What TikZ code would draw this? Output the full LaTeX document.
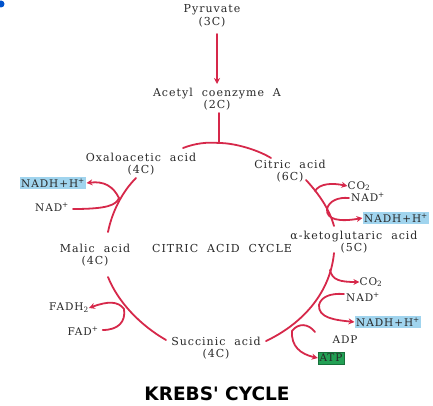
\documentclass[tikz,border=0pt]{standalone}
\usepackage{fontspec}
\setmainfont{DejaVu Serif}[WordSpace=2,LetterSpace=9]
\newfontfamily\titlefont{DejaVu Sans}
\usetikzlibrary{arrows.meta}
\definecolor{kred}{RGB}{214,40,74}
\definecolor{kblue}{RGB}{160,212,238}
\definecolor{kgreen}{RGB}{34,160,84}
\definecolor{ktext}{RGB}{40,40,40}
\begin{document}
\begin{tikzpicture}[x=1pt,y=-1pt,
  lbl/.style={font=\fontsize{11}{12.5}\selectfont, text=ktext, align=center, inner sep=0pt},
  sml/.style={font=\fontsize{10.5}{12}\selectfont, text=ktext, align=center, inner sep=0pt},
  cyc/.style={draw=kred, line width=1.8pt, line cap=round},
  outarr/.style={cyc, -{Stealth[length=6pt,width=6pt]}},
  bluebox/.style={sml, fill=kblue, inner xsep=1.5pt, inner ysep=2pt},
  greenbox/.style={sml, fill=kgreen, draw=kgreen!70!black, inner xsep=1.5pt, inner ysep=2pt}]
\useasboundingbox (0,0) rectangle (433,406);
\fill[blue!60!cyan!80!black] (1,4) circle (3.5);

% main compounds
\node[lbl] (pyr) at (212,16) {Pyruvate\\(3C)};
\node[lbl] (acoa) at (217,99) {Acetyl coenzyme A\\(2C)};
\node[lbl] (oxa) at (141,164) {Oxaloacetic acid\\(4C)};
\node[lbl] (cit) at (290,171) {Citric acid\\(6C)};
\node[lbl] (akg) at (354,242) {α-ketoglutaric acid\\(5C)};
\node[lbl] (mal) at (95,255) {Malic acid\\(4C)};
\node[lbl] (suc) at (216,348) {Succinic acid\\(4C)};
\node[lbl] (cac) at (222,248) {CITRIC ACID CYCLE};

% side products
\node[bluebox] (nadhA) at (53,183) {NADH+H\textsuperscript{+}};
\node[sml] (nadA) at (52,207) {NAD\textsuperscript{+}};
\node[sml] (co2A) at (359,186) {CO\textsubscript{2}};
\node[sml] (nadB) at (368,197) {NAD\textsuperscript{+}};
\node[bluebox] (nadhB) at (396,218) {NADH+H\textsuperscript{+}};
\node[sml] (co2B) at (371,282) {CO\textsubscript{2}};
\node[sml] (nadC) at (363,297) {NAD\textsuperscript{+}};
\node[bluebox] (nadhC) at (388,322) {NADH+H\textsuperscript{+}};
\node[sml] (adp) at (345,340) {ADP};
\node[greenbox] (atp) at (331,358) {ATP};
\node[sml] (fadh) at (69,308) {FADH\textsubscript{2}};
\node[sml] (fad) at (83,331) {FAD\textsuperscript{+}};

\node[font=\titlefont\bfseries\fontsize{18.5}{20}\selectfont, inner sep=0pt] (title) at (217,394) {KREBS' CYCLE};

% coordinates on the cycle
\coordinate (top) at (219,143);
\coordinate (tl) at (183,148);
\coordinate (tr) at (271,158);
\coordinate (c1) at (306,180);
\coordinate (c2) at (334,226);
\coordinate (k1) at (334,253);
\coordinate (k2) at (266,341);
\coordinate (s1) at (166,340);
\coordinate (s2) at (108,277);
\coordinate (m1) at (108,232);
\coordinate (m2) at (136,178);

% pyruvate -> acetyl CoA
\draw[outarr] (217,34) -- (217,84);
\draw[cyc] (219,113) -- (top);

% cycle
\draw[cyc] (tl) .. controls (196,143) and (208,142) .. (top) .. controls (235,143) and (258,150) .. (tr);
\draw[cyc] (c1) .. controls (318,193) and (329,208) .. (c2);
\draw[cyc] (k1) .. controls (330,295) and (300,325) .. (k2);
\draw[cyc] (s1) .. controls (140,325) and (118,302) .. (s2);
\draw[cyc] (m1) .. controls (112,212) and (122,192) .. (m2);

% left top branch
\coordinate (jA) at (119,198);
\draw[outarr] (jA) .. controls (113,186) and (104,181) .. (nadhA.east);
\draw[cyc] (nadA.east) ++(4,2) .. controls (108,209) and (116,205) .. (jA);

% right top branch
\coordinate (jB1) at (315,191);
\draw[outarr] (jB1) .. controls (320,183) and (333,183) .. (co2A.west);
\coordinate (jB2) at (327,209);
\draw[cyc] (nadB.west) ++(-2,1) .. controls (338,197) and (329,201) .. (jB2);
\draw[outarr] (jB2) .. controls (326,220) and (340,222) .. (nadhB.west);

% bottom right branch
\coordinate (jC1) at (330,270);
\draw[outarr] (jC1) .. controls (332,280) and (340,282) .. (co2B.west);
\coordinate (jC2) at (319,305);
\draw[cyc] (nadC.west) ++(-2,-3) .. controls (330,293) and (321,297) .. (jC2);
\draw[outarr] (jC2) .. controls (318,318) and (335,320) .. (nadhC.west);
\coordinate (jD) at (292,331);
\draw[cyc] (315,332) .. controls (308,323) and (298,323) .. (jD);
\draw[outarr] (jD) .. controls (291,346) and (300,354) .. (atp.west);

% bottom left branch
\coordinate (jE) at (124,309);
\draw[outarr] (jE) .. controls (118,301) and (108,301) .. (fadh.east);
\draw[cyc] (fad.east) ++(4,-1) .. controls (118,330) and (126,322) .. (jE);
\end{tikzpicture}
\end{document}
